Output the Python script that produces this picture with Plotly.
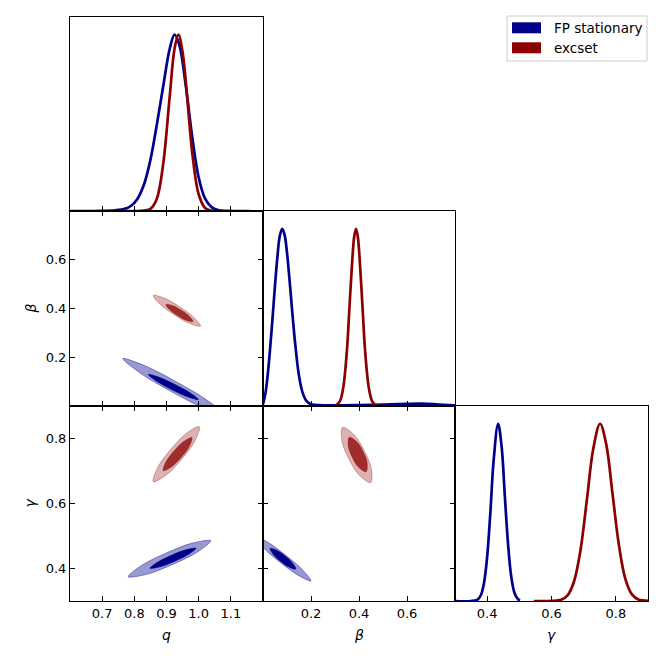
#!/usr/bin/env python3
"""
Triangle (corner) plot of q, beta, gamma for the FP stationary and excset fits.
1D marginals on the diagonal, 68%/95% filled contours below it.
"""

import plotly.graph_objects as go

# ---- 1D marginals (normalised to peak = 1) ----
Q_FP_X = [0.60, 0.66, 0.70, 0.74, 0.77, 0.79, 0.81, 0.83, 0.85, 0.87, 0.89, 0.91, 0.925,
          0.94, 0.96, 0.98, 1.00, 1.02, 1.04, 1.06, 1.09, 1.16]
Q_FP_Y = [0.0, 0.0, 0.001, 0.004, 0.012, 0.03, 0.07, 0.15, 0.29, 0.49, 0.71, 0.92, 1.0,
          0.94, 0.71, 0.42, 0.19, 0.07, 0.022, 0.006, 0.001, 0.0]
Q_EX_X = [0.755, 0.80, 0.83, 0.85, 0.87, 0.89, 0.91, 0.925, 0.937, 0.95, 0.965, 0.98,
          1.00, 1.02, 1.04, 1.066]
Q_EX_Y = [0.0, 0.0, 0.002, 0.012, 0.07, 0.27, 0.65, 0.92, 1.0, 0.90, 0.63, 0.33,
          0.095, 0.017, 0.002, 0.0]

B_FP_X = [0.0, 0.01, 0.02, 0.03, 0.04, 0.05, 0.06, 0.07, 0.08, 0.09, 0.10, 0.11, 0.12,
          0.135, 0.15, 0.165, 0.18, 0.20, 0.25, 0.30, 0.40, 0.50, 0.60, 0.66, 0.72, 0.80]
B_FP_Y = [0.01, 0.07, 0.18, 0.33, 0.50, 0.68, 0.84, 0.96, 1.0, 0.965, 0.865, 0.72, 0.56,
          0.34, 0.17, 0.075, 0.03, 0.01, 0.004, 0.003, 0.005, 0.008, 0.012, 0.013, 0.01, 0.004]
B_EX_X = [0.26, 0.30, 0.32, 0.335, 0.35, 0.36, 0.37, 0.38, 0.3875, 0.395, 0.405, 0.415,
          0.425, 0.44, 0.455, 0.47, 0.50, 0.54]
B_EX_Y = [0.0, 0.002, 0.026, 0.11, 0.32, 0.55, 0.78, 0.955, 1.0, 0.955, 0.78, 0.55,
          0.32, 0.11, 0.026, 0.004, 0.0, 0.0]

G_FP_X = [0.30, 0.35, 0.37, 0.38, 0.39, 0.40, 0.41, 0.42, 0.434, 0.445, 0.455, 0.465,
          0.475, 0.485, 0.495, 0.502]
G_FP_Y = [0.0, 0.0, 0.008, 0.031, 0.10, 0.25, 0.50, 0.79, 1.0, 0.87, 0.59, 0.32,
          0.135, 0.045, 0.012, 0.004]
G_EX_X = [0.545, 0.60, 0.63, 0.65, 0.67, 0.69, 0.71, 0.73, 0.751, 0.77, 0.79, 0.81,
          0.83, 0.85, 0.87, 0.90]
G_EX_Y = [0.0, 0.0005, 0.007, 0.032, 0.11, 0.285, 0.57, 0.86, 1.0, 0.885, 0.60, 0.31,
          0.122, 0.037, 0.008, 0.0006]

# ---- 2D contour outlines (68% inner, 95% outer) ----
QB_FP_OUT_Q = [0.7638, 0.8336, 0.9300, 1.0231, 1.0797, 1.0099, 0.9135, 0.8203]
QB_FP_OUT_B = [0.1949, 0.1648, 0.0998, 0.0268, -0.0349, -0.0048, 0.0602, 0.1332]
QB_FP_IN_Q = [0.8434, 0.8778, 0.9253, 0.9710, 0.9988, 0.9644, 0.9169, 0.8712]
QB_FP_IN_B = [0.1292, 0.1175, 0.0889, 0.0560, 0.0267, 0.0384, 0.0670, 0.0999]
QB_EX_OUT_Q = [0.8589, 0.8948, 0.9404, 0.9828, 1.0057, 0.9698, 0.9242, 0.8818]
QB_EX_OUT_B = [0.4534, 0.4416, 0.4073, 0.3664, 0.3282, 0.3399, 0.3742, 0.4151]
QB_EX_IN_Q = [0.8983, 0.9195, 0.9459, 0.9700, 0.9825, 0.9612, 0.9349, 0.9108]
QB_EX_IN_B = [0.4165, 0.4117, 0.3930, 0.3697, 0.3465, 0.3514, 0.3701, 0.3934]

QG_FP_OUT_Q = [0.7810, 0.8388, 0.9174, 0.9927, 1.0376, 0.9798, 0.9012, 0.8259]
QG_FP_OUT_G = [0.3748, 0.3822, 0.4118, 0.4487, 0.4855, 0.4781, 0.4485, 0.4116]
QG_FP_IN_Q = [0.8486, 0.8806, 0.9244, 0.9665, 0.9917, 0.9597, 0.9159, 0.8739]
QG_FP_IN_G = [0.4006, 0.4052, 0.4218, 0.4422, 0.4622, 0.4575, 0.4410, 0.4206]
QG_EX_OUT_Q = [0.8589, 0.9014, 0.9478, 0.9873, 1.0020, 0.9594, 0.9130, 0.8736]
QG_EX_OUT_G = [0.6671, 0.6894, 0.7373, 0.7909, 0.8363, 0.8140, 0.7661, 0.7125]
QG_EX_IN_Q = [0.8901, 0.9169, 0.9459, 0.9703, 0.9791, 0.9523, 0.9233, 0.8989]
QG_EX_IN_G = [0.7009, 0.7136, 0.7422, 0.7747, 0.8028, 0.7901, 0.7615, 0.7290]

BG_FP_OUT_B = [-0.0342, 0.0220, 0.0945, 0.1625, 0.2000, 0.1439, 0.0713, 0.0033]
BG_FP_OUT_G = [0.4987, 0.4800, 0.4410, 0.3977, 0.3616, 0.3803, 0.4193, 0.4626]
BG_FP_IN_B = [0.0294, 0.0581, 0.0920, 0.1224, 0.1365, 0.1077, 0.0738, 0.0435]
BG_FP_IN_G = [0.4620, 0.4560, 0.4386, 0.4178, 0.3983, 0.4043, 0.4218, 0.4426]
BG_EX_OUT_B = [0.3319, 0.3811, 0.4226, 0.4512, 0.4487, 0.3995, 0.3580, 0.3294]
BG_EX_OUT_G = [0.8343, 0.8100, 0.7613, 0.7079, 0.6642, 0.6885, 0.7371, 0.7906]
BG_EX_IN_B = [0.3598, 0.3920, 0.4175, 0.4338, 0.4294, 0.3972, 0.3717, 0.3554]
BG_EX_IN_G = [0.8037, 0.7890, 0.7590, 0.7256, 0.6979, 0.7125, 0.7426, 0.7759]

# axis ranges / ticks
Q_RANGE = [0.6, 1.2]
B_RANGE = [0.0, 0.8]
G_RANGE = [0.3, 0.9]
Q_TICKS = [0.7, 0.8, 0.9, 1.0, 1.1]
B_TICKS = [0.2, 0.4, 0.6]
G_TICKS = [0.4, 0.6, 0.8]

LABELS = ['FP stationary', 'excset']

BLUE = '#00008b'
RED = '#8b0000'
STYLE = {
    'FP stationary': dict(line=BLUE, outer='rgba(0,0,139,0.40)', inner=BLUE,
                          edge='rgba(0,0,139,0.45)'),
    'excset': dict(line=RED, outer='rgba(139,0,0,0.30)', inner='rgba(139,0,0,0.75)',
                   edge='rgba(139,0,0,0.35)'),
}

W = H = 664
OFF = 8  # page body margin pushes the plot 8px right/down
COL_PX = [(70, 263), (263, 455), (455, 648)]
ROW_PX = [(17, 211), (211, 406), (406, 601)]
FONT = 'DejaVu Sans'


def px(xp):
    return (xp - OFF) / W


def py(yp):
    return 1 - (yp - OFF) / H


def col_dom(c):
    a, b = COL_PX[c]
    return [px(a), px(b)]


def row_dom(r):
    a, b = ROW_PX[r]
    return [py(b), py(a)]


def closed(vals):
    return list(vals) + [vals[0]]


def add_1d(fig, x, y, label, xa, ya):
    fig.add_trace(go.Scatter(
        x=x, y=y, mode='lines', line=dict(color=STYLE[label]['line'], width=2.7, shape='spline'),
        name=label, showlegend=False, xaxis=xa, yaxis=ya, hoverinfo='skip'))


def add_contour(fig, xo, yo, xi, yi, label, xa, ya):
    st = STYLE[label]
    fig.add_trace(go.Scatter(
        x=closed(xo), y=closed(yo), mode='lines', fill='toself', fillcolor=st['outer'],
        line=dict(color=st['edge'], width=0.9, shape='spline'),
        showlegend=False, xaxis=xa, yaxis=ya, hoverinfo='skip'))
    fig.add_trace(go.Scatter(
        x=closed(xi), y=closed(yi), mode='lines', fill='toself', fillcolor=st['inner'],
        line=dict(color=st['inner'], width=0.5, shape='spline'),
        showlegend=False, xaxis=xa, yaxis=ya, hoverinfo='skip'))


def axis(dom, rng, anchor, tickvals=None, labels=False, mirror=True):
    d = dict(domain=dom, range=rng, anchor=anchor, showline=True, linecolor='black',
             linewidth=1.1, mirror=mirror, showgrid=False, zeroline=False,
             ticks='inside' if tickvals else '', ticklen=5, tickwidth=1, tickcolor='black',
             showticklabels=labels, tickfont=dict(family=FONT, size=13, color='black'))
    if tickvals:
        d['tickvals'] = tickvals
        d['ticktext'] = ['%.1f' % v for v in tickvals]
    return d


def create_triangle_plot():
    fig = go.Figure()

    # diagonal
    add_1d(fig, Q_FP_X, Q_FP_Y, LABELS[0], 'x', 'y')
    add_1d(fig, Q_EX_X, Q_EX_Y, LABELS[1], 'x', 'y')
    add_1d(fig, B_FP_X, B_FP_Y, LABELS[0], 'x3', 'y3')
    add_1d(fig, B_EX_X, B_EX_Y, LABELS[1], 'x3', 'y3')
    add_1d(fig, G_FP_X, G_FP_Y, LABELS[0], 'x6', 'y6')
    add_1d(fig, G_EX_X, G_EX_Y, LABELS[1], 'x6', 'y6')

    # lower triangle
    add_contour(fig, QB_FP_OUT_Q, QB_FP_OUT_B, QB_FP_IN_Q, QB_FP_IN_B, LABELS[0], 'x2', 'y2')
    add_contour(fig, QB_EX_OUT_Q, QB_EX_OUT_B, QB_EX_IN_Q, QB_EX_IN_B, LABELS[1], 'x2', 'y2')
    add_contour(fig, QG_FP_OUT_Q, QG_FP_OUT_G, QG_FP_IN_Q, QG_FP_IN_G, LABELS[0], 'x4', 'y4')
    add_contour(fig, QG_EX_OUT_Q, QG_EX_OUT_G, QG_EX_IN_Q, QG_EX_IN_G, LABELS[1], 'x4', 'y4')
    add_contour(fig, BG_FP_OUT_B, BG_FP_OUT_G, BG_FP_IN_B, BG_FP_IN_G, LABELS[0], 'x5', 'y5')
    add_contour(fig, BG_EX_OUT_B, BG_EX_OUT_G, BG_EX_IN_B, BG_EX_IN_G, LABELS[1], 'x5', 'y5')

    fig.update_layout(
        width=W, height=H, margin=dict(l=0, r=0, t=0, b=0),
        paper_bgcolor='white', plot_bgcolor='white', showlegend=False,
        xaxis=axis(col_dom(0), Q_RANGE, 'y', Q_TICKS),
        yaxis=axis(row_dom(0), [0, 1.1], 'x'),
        xaxis2=axis(col_dom(0), Q_RANGE, 'y2', Q_TICKS, mirror='ticks'),
        yaxis2=axis(row_dom(1), B_RANGE, 'x2', B_TICKS, labels=True, mirror='ticks'),
        xaxis3=axis(col_dom(1), B_RANGE, 'y3', B_TICKS),
        yaxis3=axis(row_dom(1), [0, 1.1], 'x3'),
        xaxis4=axis(col_dom(0), Q_RANGE, 'y4', Q_TICKS, labels=True, mirror='ticks'),
        yaxis4=axis(row_dom(2), G_RANGE, 'x4', G_TICKS, labels=True, mirror='ticks'),
        xaxis5=axis(col_dom(1), B_RANGE, 'y5', B_TICKS, labels=True, mirror='ticks'),
        yaxis5=axis(row_dom(2), G_RANGE, 'x5', G_TICKS, mirror='ticks'),
        xaxis6=axis(col_dom(2), G_RANGE, 'y6', G_TICKS, labels=True),
        yaxis6=axis(row_dom(2), [0, 1.1], 'x6'),
    )

    # parameter labels
    tfont = dict(family=FONT, size=14, color='black')
    for txt, xp, yp, ang in [('q', 166.5, 635, 0), ('β', 359, 635, 0), ('γ', 551.5, 635, 0),
                             ('β', 30, 308.5, -90), ('γ', 30, 503.5, -90)]:
        fig.add_annotation(x=px(xp), y=py(yp), xref='paper', yref='paper',
                           text='<i>%s</i>' % txt, showarrow=False, textangle=ang,
                           font=tfont, xanchor='center', yanchor='middle')

    # legend box with colour patches
    fig.add_shape(type='rect', xref='paper', yref='paper', x0=px(507), x1=px(647),
                  y0=py(61), y1=py(16), line=dict(color='#cccccc', width=1),
                  fillcolor='white')
    for i, label in enumerate(LABELS):
        top = 22.3 + 20 * i
        fig.add_shape(type='rect', xref='paper', yref='paper', x0=px(512), x1=px(541),
                      y0=py(top + 11), y1=py(top),
                      line=dict(width=0), fillcolor=STYLE[label]['line'])
        fig.add_annotation(x=px(551.5), y=py(top + 5.5), xref='paper', yref='paper',
                           text=label, showarrow=False, xanchor='left', yanchor='middle',
                           font=dict(family=FONT, size=13.5, color='black'))
    return fig


def main():
    fig = create_triangle_plot()
    fig.write_html("out.html")
    print("saved out.html")


if __name__ == "__main__":
    main()
